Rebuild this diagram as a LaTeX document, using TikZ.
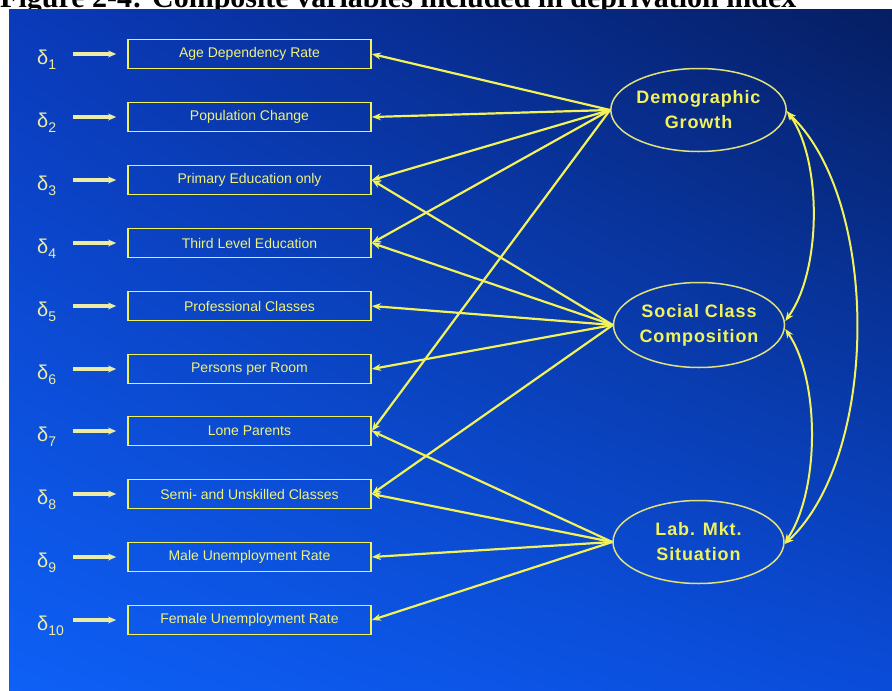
\documentclass[tikz,border=0pt]{standalone}
\usepackage{fontspec}
\setmainfont{Liberation Sans}
\newfontfamily\titlefont{Liberation Serif}
\newfontfamily\ellfont[LetterSpace=5]{Liberation Sans}
\usetikzlibrary{arrows.meta,shapes.geometric,shadings}
\definecolor{bgTL}{HTML}{0A3ABA}
\definecolor{bgTR}{HTML}{061E62}
\definecolor{bgBL}{HTML}{0E60F6}
\definecolor{bgBR}{HTML}{0A4CDA}
\definecolor{yel}{HTML}{F2F25A}
\definecolor{txtyel}{HTML}{F2F27C}
\definecolor{ellyel}{HTML}{E2E27C}
\definecolor{erryel}{HTML}{ECECA4}
\begin{document}
\begin{tikzpicture}[x=1pt,y=-1pt,
  varbox/.style={draw=yel, line width=1.8pt, minimum width=243pt, minimum height=29pt,
    inner sep=0pt, text=txtyel, font=\fontsize{14}{14}\selectfont},
  latent/.style={ellipse, draw=ellyel, line width=1.5pt, minimum width=171pt,
    minimum height=83pt, inner sep=0pt, text=yel, align=center,
    font=\ellfont\bfseries\fontsize{18}{25}\selectfont},
  errlab/.style={text=erryel, inner sep=0pt, anchor=west, font=\fontsize{20}{20}\selectfont},
  errarr/.style={draw=erryel, line width=3.2pt, -{Stealth[length=8pt,width=7pt]}},
  load/.style={draw=yel, line width=2.2pt, -{Stealth[length=9pt,width=7pt]}},
  cov/.style={draw=yel, line width=2pt,
    {Stealth[length=9pt,width=7pt]}-{Stealth[length=9pt,width=7pt]}}]
\useasboundingbox (0,0) rectangle (892,691);
\begin{scope}
\clip (0,0) rectangle (892,691);
\fill[white] (0,0) rectangle (892,691);
\node[anchor=base west, inner sep=0pt, text=black,
  font=\titlefont\bfseries\fontsize{30}{30}\selectfont] (title) at (0,7)
  {Figure 2-4: Composite variables included in deprivation index};
\shade[upper left=bgTL, upper right=bgTR, lower left=bgBL, lower right=bgBR]
  (9,9) rectangle (892,691);
\end{scope}

% observed variables
\foreach \i/\t/\y in {1/Age Dependency Rate/54, 2/Population Change/117,
  3/Primary Education only/180, 4/Third Level Education/243,
  5/Professional Classes/306, 6/Persons per Room/369, 7/Lone Parents/431,
  8/Semi- and Unskilled Classes/494, 9/Male Unemployment Rate/557,
  10/Female Unemployment Rate/620}{
  \node[varbox] (b\i) at (249.5,\y) {\t};
  \node[errlab] (d\i) at (37,\y+6) {δ\raisebox{-5pt}{\fontsize{14}{14}\selectfont\i}};
  \coordinate (e\i) at (73,\y);
  \draw[errarr, shorten >=11pt] (e\i) -- (b\i);
}

% latent variables
\node[latent] (dg) at (698.5,110) {Demographic\\Growth};
\node[latent, minimum height=85pt] (scc) at (699,325) {Social Class\\Composition};
\node[latent] (lms) at (698.5,542) {Lab. Mkt.\\Situation};

% loadings
\foreach \b in {1,2,3,4,7}{\draw[load] (dg.west) -- (b\b.east);}
\foreach \b in {3,4,5,6,8}{\draw[load] (scc.west) -- (b\b.east);}
\foreach \b in {7,8,9,10}{\draw[load] (lms.west) -- (b\b.east);}

% covariances
\draw[cov] ([yshift=-1pt]dg.east) .. controls (822,160) and (822,270) .. ([yshift=4pt]scc.east);
\draw[cov] ([yshift=-4pt]scc.east) .. controls (820,380) and (820,490) .. ([yshift=-1pt]lms.east);
\draw[cov] ([yshift=-2pt]dg.east) .. controls (880,200) and (880,455) .. ([yshift=-2pt]lms.east);
\end{tikzpicture}
\end{document}
